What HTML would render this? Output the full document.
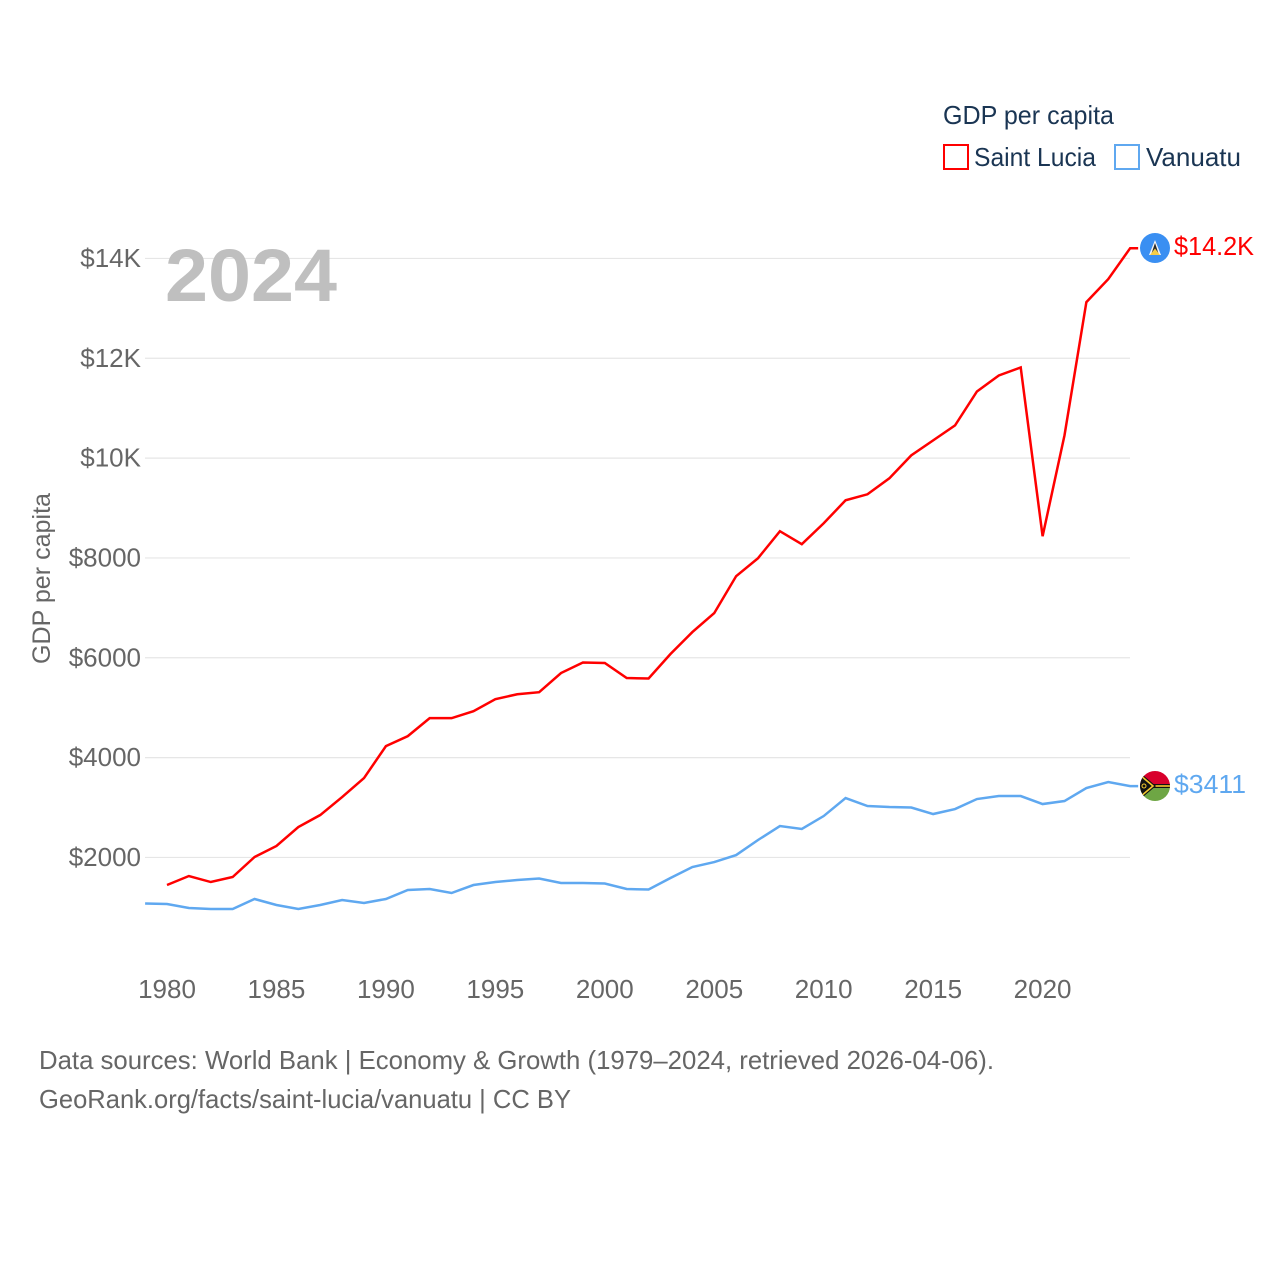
<!DOCTYPE html>
<html lang="en">
<head>
<meta charset="utf-8">
<title>GDP per capita: Saint Lucia and Vanuatu</title>
<style>
html,body{margin:0;padding:0;background:#fff}
svg{display:block}
text{font-family:"Liberation Sans",sans-serif}
</style>
</head>
<body>
<svg id="chart" width="1280" height="1280" viewBox="0 0 1280 1280" xmlns="http://www.w3.org/2000/svg">
  <rect x="0" y="0" width="1280" height="1280" fill="#ffffff"/>
  <g id="grid"></g>
  <g id="yticks"></g>
  <g id="xticks"></g>
  <text x="165" y="301" font-size="74" font-weight="700" fill="#bfbfbf" textLength="172" lengthAdjust="spacingAndGlyphs">2024</text>
  <text transform="translate(50,664) rotate(-90)" font-size="25" fill="#666666" textLength="171" lengthAdjust="spacingAndGlyphs">GDP per capita</text>
  <g id="series"></g>

  <g>
    <text x="943" y="124" font-size="26" fill="#1a3553" textLength="171" lengthAdjust="spacingAndGlyphs">GDP per capita</text>
    <rect x="944" y="145" width="24" height="24" fill="#fff" stroke="#ff0000" stroke-width="2"/>
    <text x="974" y="166" font-size="26" fill="#1a3553" textLength="122" lengthAdjust="spacingAndGlyphs">Saint Lucia</text>
    <rect x="1115" y="145" width="24" height="24" fill="#fff" stroke="#5fa8f0" stroke-width="2"/>
    <text x="1146" y="166" font-size="26" fill="#1a3553" textLength="95" lengthAdjust="spacingAndGlyphs">Vanuatu</text>
  </g>

  <defs>
    <clipPath id="flagClipA"><circle cx="1155" cy="248" r="15"/></clipPath>
    <clipPath id="flagClipB"><circle cx="1155" cy="786" r="15"/></clipPath>
  </defs>
  <g clip-path="url(#flagClipA)">
    <rect x="1140" y="233" width="30" height="30" fill="#3a8ff2"/>
    <polygon points="1155,240 1161,255 1149,255" fill="#f4f4f4"/>
    <polygon points="1155,243 1159,255 1151,255" fill="#2b2b2b"/>
    <polygon points="1155,248.500 1160,255 1150,255" fill="#f6cd46"/>
  </g>
  <g clip-path="url(#flagClipB)">
    <rect x="1140" y="771" width="30" height="15" fill="#d8002c"/>
    <rect x="1140" y="786" width="30" height="15" fill="#6ea644"/>
    <rect x="1140" y="784" width="30" height="4" fill="#111111"/>
    <rect x="1150" y="785.200" width="20" height="1.600" fill="#f5c92f"/>
    <polygon points="1138,771 1156,786 1138,801" fill="#111111"/>
    <polyline points="1140,775 1153,786 1140,797" fill="none" stroke="#f5c92f" stroke-width="1.600"/>
    <circle cx="1144" cy="786" r="2" fill="none" stroke="#f5c92f" stroke-width="1"/>
  </g>
  <text id="labelA" x="1174" y="255" font-size="26" fill="#ff0000" textLength="80" lengthAdjust="spacingAndGlyphs"></text>
  <text id="labelB" x="1174" y="793" font-size="26" fill="#5fa8f0" textLength="72" lengthAdjust="spacingAndGlyphs"></text>

  <text x="39" y="1069" font-size="26" fill="#666666" textLength="955" lengthAdjust="spacingAndGlyphs">Data sources: World Bank | Economy &amp; Growth (1979–2024, retrieved 2026-04-06).</text>
  <text x="39" y="1108" font-size="26" fill="#666666" textLength="532" lengthAdjust="spacingAndGlyphs">GeoRank.org/facts/saint-lucia/vanuatu | CC BY</text>
</svg>
<script>
const yTickValues = [2000, 4000, 6000, 8000, 10000, 12000, 14000];
const yTickLabels = ["$2000", "$4000", "$6000", "$8000", "$10K", "$12K", "$14K"];
const xTickYears = [1980, 1985, 1990, 1995, 2000, 2005, 2010, 2015, 2020];
const saintLuciaYears = [1980,1981,1982,1983,1984,1985,1986,1987,1988,1989,1990,1991,1992,1993,1994,1995,1996,1997,1998,1999,2000,2001,2002,2003,2004,2005,2006,2007,2008,2009,2010,2011,2012,2013,2014,2015,2016,2017,2018,2019,2020,2021,2022,2023,2024];
const saintLuciaValues = [1448,1628,1508,1608,2009,2230,2610,2850,3210,3590,4230,4430,4790,4790,4930,5170,5270,5310,5695,5905,5895,5595,5585,6075,6515,6895,7635,7995,8535,8275,8695,9155,9275,9595,10055,10355,10655,11335,11655,11815,8435,10455,13125,13585,14205];
const vanuatuYears = [1979,1980,1981,1982,1983,1984,1985,1986,1987,1988,1989,1990,1991,1992,1993,1994,1995,1996,1997,1998,1999,2000,2001,2002,2003,2004,2005,2006,2007,2008,2009,2010,2011,2012,2013,2014,2015,2016,2017,2018,2019,2020,2021,2022,2023,2024];
const vanuatuValues = [1078,1068,988,968,968,1168,1048,968,1048,1148,1088,1168,1348,1368,1288,1448,1508,1548,1578,1488,1488,1478,1368,1358,1588,1808,1908,2048,2350,2630,2570,2830,3190,3030,3010,3000,2870,2970,3170,3230,3230,3070,3130,3390,3510,3430];
const saintLuciaEndLabel = "$14.2K";
const vanuatuEndLabel = "$3411";

const SVG_NS = "http://www.w3.org/2000/svg";
const xScale = function (year) { return 167 + (year - 1980) * 21.89; };
const yScale = function (value) { return 957.3 - value * 0.04992; };

const gridGroup = document.getElementById("grid");
const yTickGroup = document.getElementById("yticks");
yTickValues.forEach(function (value, i) {
  const line = document.createElementNS(SVG_NS, "line");
  
  
  line.setAttribute("x1", 145);
  line.setAttribute("x2", 1130);
  line.setAttribute("y1", yScale(value));
  line.setAttribute("y2", yScale(value));
  line.setAttribute("stroke", "#e6e6e6");
  line.setAttribute("stroke-width", 1.2);
  gridGroup.appendChild(line);

  const label = document.createElementNS(SVG_NS, "text");
  
  
  label.setAttribute("x", 141);
  label.setAttribute("y", yScale(value) + 8.5);
  label.setAttribute("text-anchor", "end");
  label.setAttribute("font-size", 26);
  label.setAttribute("fill", "#666666");
  label.textContent = yTickLabels[i];
  yTickGroup.appendChild(label);
});

const xTickGroup = document.getElementById("xticks");
xTickYears.forEach(function (year) {
  const label = document.createElementNS(SVG_NS, "text");
  
  
  label.setAttribute("x", xScale(year));
  label.setAttribute("y", 998);
  label.setAttribute("text-anchor", "middle");
  label.setAttribute("font-size", 26);
  label.setAttribute("fill", "#666666");
  label.textContent = String(year);
  xTickGroup.appendChild(label);
});

function buildPoints(years, values) {
  const coords = years.map(function (year, i) {
    return xScale(year).toFixed(2) + "," + yScale(values[i]).toFixed(2);
  });
  const lastY = yScale(values[values.length - 1]).toFixed(2);
  const lastX = (xScale(years[years.length - 1]) + 8).toFixed(2);
  coords.push(lastX + "," + lastY);
  return coords.join(" ");
}

const seriesGroup = document.getElementById("series");

const saintLuciaLine = document.createElementNS(SVG_NS, "polyline");


saintLuciaLine.setAttribute("points", buildPoints(saintLuciaYears, saintLuciaValues));
saintLuciaLine.setAttribute("fill", "none");
saintLuciaLine.setAttribute("stroke", "#ff0000");
saintLuciaLine.setAttribute("stroke-width", 2.5);
seriesGroup.appendChild(saintLuciaLine);

const vanuatuLine = document.createElementNS(SVG_NS, "polyline");


vanuatuLine.setAttribute("points", buildPoints(vanuatuYears, vanuatuValues));
vanuatuLine.setAttribute("fill", "none");
vanuatuLine.setAttribute("stroke", "#5fa8f0");
vanuatuLine.setAttribute("stroke-width", 2.5);
seriesGroup.appendChild(vanuatuLine);

document.getElementById("labelA").textContent = saintLuciaEndLabel;
document.getElementById("labelB").textContent = vanuatuEndLabel;
</script>
</body>
</html>
